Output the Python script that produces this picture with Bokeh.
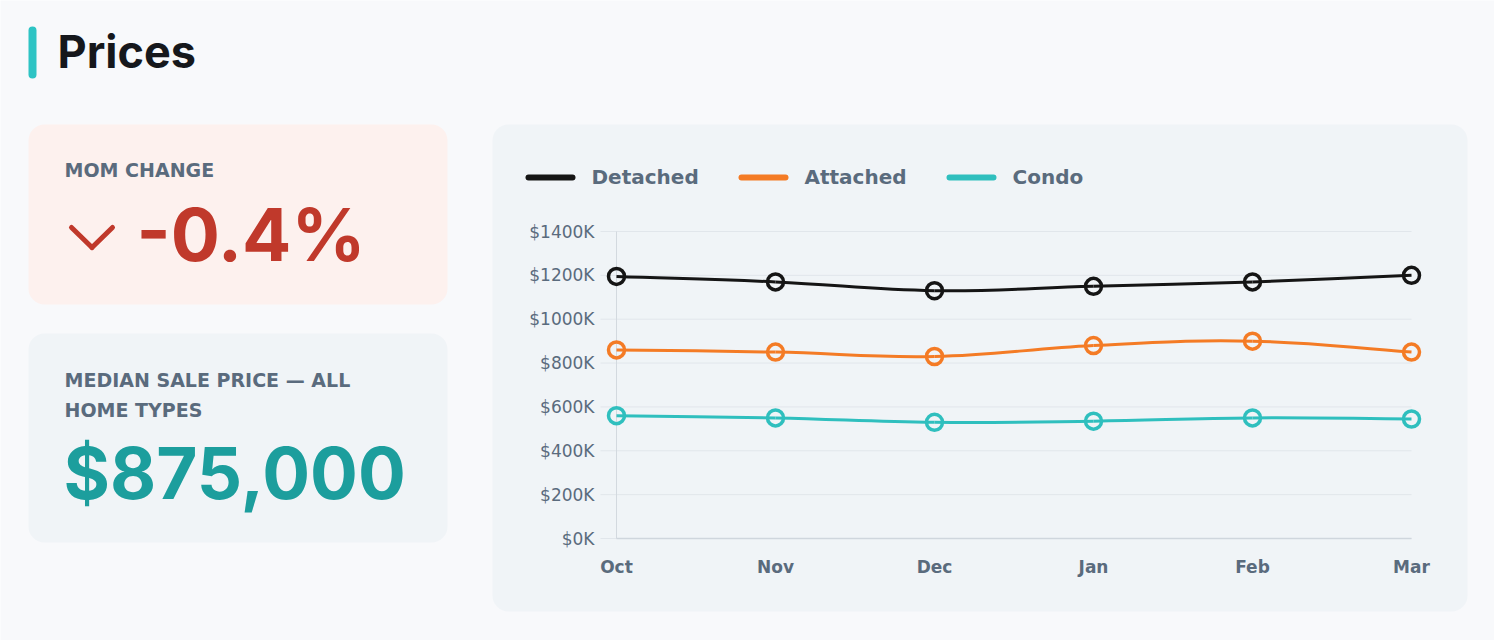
import math
from bokeh.plotting import figure
from bokeh.models import (Range1d, BoxAnnotation, Label, Arrow, ColumnDataSource)
from bokeh.core.properties import value
from bokeh.embed import file_html
from bokeh.resources import INLINE

# ---------------- data ----------------
months = ["Oct", "Nov", "Dec", "Jan", "Feb", "Mar"]
series_names = ["Detached", "Attached", "Condo"]
detached = [1195000, 1170000, 1130000, 1150000, 1170000, 1200000]
attached = [860000, 850000, 830000, 880000, 900000, 850000]
condo = [560000, 550000, 530000, 535000, 550000, 545000]
y_ticks = [0, 200000, 400000, 600000, 800000, 1000000, 1200000, 1400000]
y_tick_labels = ["$0K", "$200K", "$400K", "$600K", "$800K", "$1000K", "$1200K", "$1400K"]

page_title = "Prices"
mom_label = "MOM CHANGE"
mom_value = "-0.4%"
median_label_lines = ["MEDIAN SALE PRICE \u2014 ALL", "HOME TYPES"]
median_value = "$875,000"

# ---------------- style / layout ----------------
colors = ["#151515", "#F47B25", "#2FBFBE"]
PAGE_BG = "#F8F9FB"
CARD_BG = "#F0F4F7"
MOM_BG = "#FDF1EE"
SLATE = "#5A6B7D"
RED = "#C0392B"
TEAL_DARK = "#1C9E9D"
TEAL = "#2EC4C4"
GRID = "#E1E6EB"

W, H = 1494, 640
# chart plot area in page pixels
X0_PX, X1_PX = 616.0, 1411.0      # first / last category
Y0_PX, YTOP_PX = 538.0, 231.0     # value 0 / value y_ticks[-1]
n = len(months)
KX = (X1_PX - X0_PX) / (n - 1)
KY = (Y0_PX - YTOP_PX) / y_ticks[-1]

xs = list(range(n))

p = figure(width=W, height=H, output_backend="svg", toolbar_location=None,
           x_axis_location=None, y_axis_location=None,
           x_range=Range1d(-X0_PX / KX, (W - X0_PX) / KX),
           y_range=Range1d(-(H - Y0_PX) / KY, Y0_PX / KY),
           min_border=0)
p.border_fill_color = PAGE_BG
p.background_fill_color = PAGE_BG
p.outline_line_color = None
p.grid.visible = False

# page-pixel coordinate ranges for decorations
p.extra_x_ranges = {"px": Range1d(0, W)}
p.extra_y_ranges = {"py": Range1d(H, 0)}

def box(l, r, t, b, color, radius, level="image"):
    p.add_layout(BoxAnnotation(left=l, right=r, top=t, bottom=b,
                               x_range_name="px", y_range_name="py",
                               fill_color=color, fill_alpha=1.0,
                               line_color=None, border_radius=radius,
                               level=level, editable=False))

BASE_SHIFT = 0.385  # Label's "alphabetic" baseline lands this many em below y

def label(x, baseline_y, text, size, color, font="DejaVu Sans", style="bold"):
    p.add_layout(Label(x=x, y=baseline_y - BASE_SHIFT * size, text=text,
                       x_range_name="px", y_range_name="py",
                       text_font=font, text_font_size=f"{size}px",
                       text_font_style=style, text_color=color,
                       text_baseline="alphabetic", text_align="left"))

def mid_label(x, y, text, size, color, font="DejaVu Sans", style="bold"):
    p.add_layout(Label(x=x, y=y, text=text, x_range_name="px", y_range_name="py",
                       text_font=font, text_font_size=f"{size}px",
                       text_font_style=style, text_color=color,
                       text_baseline="middle", text_align="left"))

# cards
box(28, 447, 124, 304, MOM_BG, 16)
box(28, 447, 333, 542, CARD_BG, 16)
box(492, 1467, 124, 611, CARD_BG, 16)
# title accent bar
box(28, 36, 26, 78, TEAL, 4, level="annotation")

label(57, 68, page_title, 45, "#16181C", font="Inter")
label(64, 177, mom_label, 19, SLATE)
label(136, 262, mom_value, 73, RED, font="Inter")
label(64, 387, median_label_lines[0], 19, SLATE)
label(64, 417, median_label_lines[1], 19, SLATE)
label(63, 500, median_value, 71, TEAL_DARK, font="Inter")

# chevron (down)
for (xa, ya, xb, yb) in [(71, 227, 91.5, 247), (91.5, 247, 112, 227)]:
    p.add_layout(Arrow(x_start=xa, y_start=ya, x_end=xb, y_end=yb, start=None, end=None,
                       x_range_name="px", y_range_name="py",
                       line_color=RED, line_width=5, line_cap="round"))

# legend
legend_x = [525, 738, 946]
for name, c, lx in zip(series_names, colors, legend_x):
    box(lx, lx + 50, 174, 180, c, 3, level="annotation")
    mid_label(lx + 66, 176.5, name, 20, SLATE)

# ---------------- chart ----------------
tick_ext = 16.0 / KX   # grid lines extend a little left of the y axis
p.segment(x0=[-tick_ext] * len(y_ticks), y0=y_ticks,
          x1=[xs[-1]] * len(y_ticks), y1=y_ticks,
          line_color=GRID, line_width=1)
# axis lines
p.segment(x0=[xs[0]], y0=[0], x1=[xs[0]], y1=[y_ticks[-1]], line_color="#D3D9DF", line_width=1)
p.segment(x0=[xs[0]], y0=[0], x1=[xs[-1]], y1=[0], line_color="#CFD6DD", line_width=1.5)

# tick labels
p.text(x=[xs[0]] * len(y_ticks), y=y_ticks, text=y_tick_labels,
       x_offset=-22, text_align="right", text_baseline="middle",
       text_font=value("DejaVu Sans"), text_font_size="17px", text_color=SLATE)
p.text(x=xs, y=[0] * n, text=months, y_offset=28,
       text_align="center", text_baseline="middle",
       text_font=value("DejaVu Sans"), text_font_style="bold",
       text_font_size="17px", text_color=SLATE)

# smooth lines (Chart.js style spline through the points)
TENSION = 0.4

def spline_controls(x, y):
    m = len(x)
    prev_c, next_c = [], []
    for i in range(m):
        a = i - 1 if i > 0 else i
        b = i + 1 if i < m - 1 else i
        d01 = math.hypot((x[i] - x[a]) * KX, (y[i] - y[a]) * KY)
        d12 = math.hypot((x[b] - x[i]) * KX, (y[b] - y[i]) * KY)
        s = d01 + d12
        s01 = d01 / s if s else 0
        s12 = d12 / s if s else 0
        fa, fb = TENSION * s01, TENSION * s12
        prev_c.append((x[i] - fa * (x[b] - x[a]), y[i] - fa * (y[b] - y[a])))
        next_c.append((x[i] + fb * (x[b] - x[a]), y[i] + fb * (y[b] - y[a])))
    return prev_c, next_c

for vals, c in zip([detached, attached, condo], colors):
    pc, nc = spline_controls(xs, vals)
    src = ColumnDataSource(dict(
        x0=xs[:-1], y0=vals[:-1], x1=xs[1:], y1=vals[1:],
        cx0=[q[0] for q in nc[:-1]], cy0=[q[1] for q in nc[:-1]],
        cx1=[q[0] for q in pc[1:]], cy1=[q[1] for q in pc[1:]]))
    p.bezier(x0="x0", y0="y0", x1="x1", y1="y1", cx0="cx0", cy0="cy0",
             cx1="cx1", cy1="cy1", source=src, line_color=c, line_width=3)
    p.scatter(xs, vals, size=16, fill_color=None, line_color=c, line_width=3.5)

open("out.html", "w").write(file_html(p, INLINE))
